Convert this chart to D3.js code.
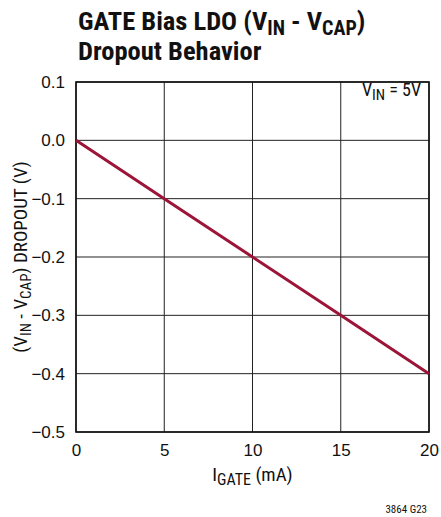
<!DOCTYPE html>
<html>
<head>
<meta charset="utf-8">
<script src="https://cdn.jsdelivr.net/npm/d3@7"></script>
<style>
  html, body { margin: 0; padding: 0; background: #fff; }
  svg { display: block; font-family: "Liberation Sans Narrow", "Arial Narrow", "Roboto Condensed", sans-serif; }
  .title { font-weight: bold; font-size: 26.5px; fill: #111; }
  .tick-label { font-size: 17px; fill: #111; }
  .axis-label { font-size: 19px; fill: #111; }
  .ann { font-size: 18px; fill: #111; }
  .note { font-size: 11px; fill: #111; }
</style>
</head>
<body>
<div id="chart"></div>
<script>
// Daten
const igate = [0, 5, 10, 15, 20];             // mA
const dropout = [0, -0.1, -0.2, -0.3, -0.4];   // V
const xTicks = [0, 5, 10, 15, 20];
const yTicks = [0.1, 0.0, -0.1, -0.2, -0.3, -0.4, -0.5];

const W = 441, H = 517;
const M = { top: 82, right: 12, bottom: 85, left: 76 };
const plotW = W - M.left - M.right;
const plotH = H - M.top - M.bottom;

const svg = d3.select("#chart").append("svg")
  .attr("width", W).attr("height", H);

const x = d3.scaleLinear().domain([0, 20]).range([M.left, M.left + plotW]);
const y = d3.scaleLinear().domain([-0.5, 0.1]).range([M.top + plotH, M.top]);

// Titel
const t1 = svg.append("text").attr("class", "title").attr("x", 78).attr("y", 30);
t1.append("tspan").text("GATE Bias LDO (V");
t1.append("tspan").attr("dy", 5).attr("font-size", "20px").text("IN");
t1.append("tspan").attr("dy", -5).text(" - V");
t1.append("tspan").attr("dy", 5).attr("font-size", "20px").text("CAP");
t1.append("tspan").attr("dy", -5).text(")");
svg.append("text").attr("class", "title").attr("x", 78).attr("y", 60).text("Dropout Behavior");

// Gitter
const grid = svg.append("g");
grid.selectAll("line.v").data(xTicks).join("line")
  .attr("x1", d => x(d)).attr("x2", d => x(d))
  .attr("y1", M.top).attr("y2", M.top + plotH)
  .attr("stroke", "#222").attr("stroke-width", 1);
grid.selectAll("line.h").data(yTicks).join("line")
  .attr("x1", M.left).attr("x2", M.left + plotW)
  .attr("y1", d => y(d)).attr("y2", d => y(d))
  .attr("stroke", "#222").attr("stroke-width", 1);

// Achsen (nur Beschriftung)
const fmtY = d => (d < 0 ? "\u2212" + Math.abs(d).toFixed(1) : d.toFixed(1));
const yAxis = svg.append("g").attr("transform", `translate(${M.left},0)`)
  .call(d3.axisLeft(y).tickValues(yTicks).tickFormat(fmtY).tickSize(0).tickPadding(11));
const xAxis = svg.append("g").attr("transform", `translate(0,${M.top + plotH})`)
  .call(d3.axisBottom(x).tickValues(xTicks).tickSize(0).tickPadding(12));
[yAxis, xAxis].forEach(a => {
  a.select(".domain").remove();
  a.selectAll("text").attr("class", "tick-label").attr("font-family", null).attr("font-size", null).attr("fill", "#111");
});

// Rahmen
svg.append("rect")
  .attr("x", M.left).attr("y", M.top).attr("width", plotW).attr("height", plotH)
  .attr("fill", "none").attr("stroke", "#111").attr("stroke-width", 1.6);

// Kurve
const line = d3.line().x((d, i) => x(igate[i])).y(d => y(d));
svg.append("path").datum(dropout)
  .attr("d", line)
  .attr("fill", "none").attr("stroke", "#9c1538").attr("stroke-width", 3);

// Annotation
const ann = svg.append("text").attr("class", "ann").attr("x", 421).attr("y", 96).attr("text-anchor", "end");
ann.append("tspan").text("V");
ann.append("tspan").attr("dy", 4).attr("font-size", "15px").text("IN");
ann.append("tspan").attr("dy", -4).text(" = 5V");

// X-Achsentitel
const xl = svg.append("text").attr("class", "axis-label").attr("x", x(10)).attr("y", 481).attr("text-anchor", "middle");
xl.append("tspan").text("I");
xl.append("tspan").attr("dy", 4).attr("font-size", "16px").text("GATE");
xl.append("tspan").attr("dy", -4).text(" (mA)");

// Y-Achsentitel
const yl = svg.append("text").attr("class", "axis-label")
  .attr("font-size", "18px")
  .attr("transform", `translate(27,${(M.top + M.top + plotH) / 2}) rotate(-90)`).attr("text-anchor", "middle");
yl.append("tspan").text("(V");
yl.append("tspan").attr("dy", 4).attr("font-size", "15px").text("IN");
yl.append("tspan").attr("dy", -4).text(" - V");
yl.append("tspan").attr("dy", 4).attr("font-size", "15px").text("CAP");
yl.append("tspan").attr("dy", -4).text(") DROPOUT (V)");

svg.append("text").attr("class", "note").attr("x", 427).attr("y", 513).attr("text-anchor", "end").text("3864 G23");
</script>
</body>
</html>
